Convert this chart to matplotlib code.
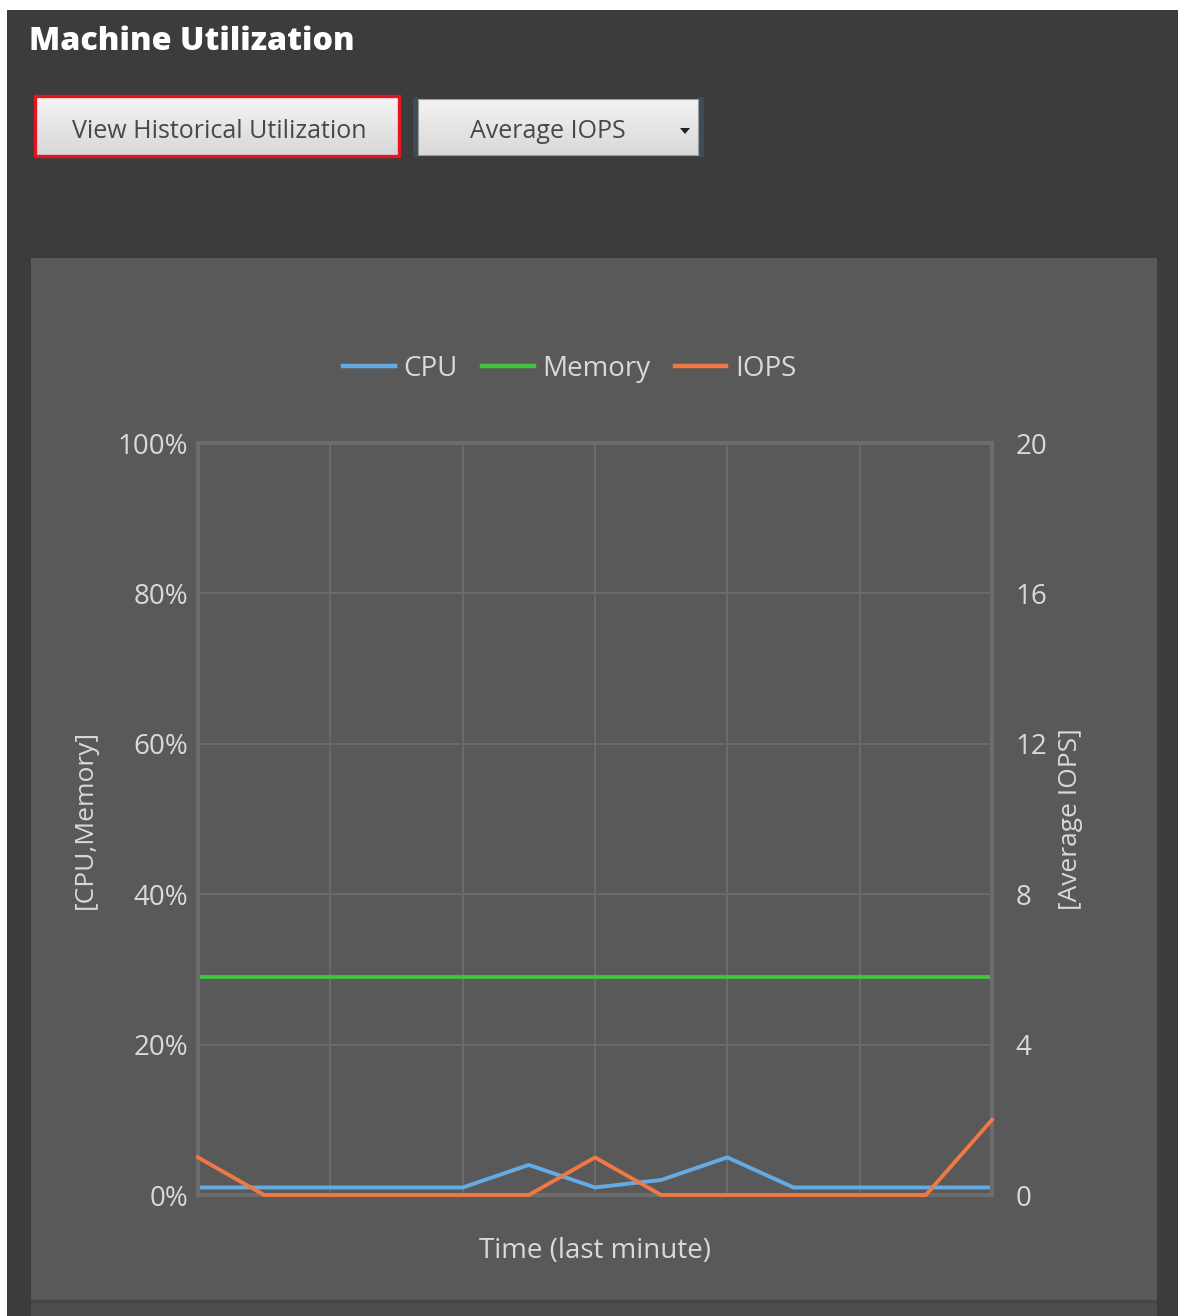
import numpy as np
import matplotlib.pyplot as plt
from matplotlib.patches import Rectangle, Polygon
from matplotlib.colors import LinearSegmentedColormap

W, H = 1178, 1316

# samples over the last minute (seconds)
seconds = [0, 5, 10, 15, 20, 25, 30, 35, 40, 45, 50, 55, 60]
cpu = [1, 1, 1, 1, 1, 4, 1, 2, 5, 1, 1, 1, 1]
memory = [29, 29, 29, 29, 29, 29, 29, 29, 29, 29, 29, 29, 29]
iops = [1, 0, 0, 0, 0, 0, 1, 0, 0, 0, 0, 0, 2]

pct_ticks = [0, 20, 40, 60, 80, 100]
pct_labels = ['0%', '20%', '40%', '60%', '80%', '100%']
iops_ticks = [0, 4, 8, 12, 16, 20]
time_grid = [0, 10, 20, 30, 40, 50, 60]

c_cpu = '#65abe3'
c_mem = '#3fc43a'
c_iops = '#f07844'
txt = '#d9d9d9'
grid_c = '#6a6a6a'

plt.rcParams['font.family'] = ['Open Sans', 'DejaVu Sans']

fig = plt.figure(figsize=(W / 100, H / 100), dpi=100, facecolor='white')

# window chrome in pixel coordinates
bg = fig.add_axes([0, 0, 1, 1], zorder=0)
bg.axis('off')
bg.add_patch(Rectangle((7, 10), W - 7, H - 10, fc='#3c3c3c', ec='none'))
bg.add_patch(Rectangle((31, 258), 1126, 1042, fc='#595959', ec='none'))
bg.add_patch(Rectangle((31, 1300), 1126, 3, fc='#454545', ec='none'))
bg.add_patch(Rectangle((31, 1303), 1126, 13, fc='#4d4d4d', ec='none'))

bg.text(29, 42, 'Machine Utilization', color='white', fontsize=23.2,
        fontweight='heavy', ha='left', va='center')

# buttons
btn_cmap = LinearSegmentedColormap.from_list('btn', ['#f4f4f4', '#d8d8d8'])
grad = np.linspace(0, 1, 64).reshape(-1, 1)
bg.imshow(grad, cmap=btn_cmap, extent=(36, 398, 155, 97), aspect='auto', zorder=2)
bg.add_patch(Rectangle((35, 96), 364, 60, fill=False, ec='#e5141e', lw=2.4, zorder=3))
bg.text(219, 131, 'View Historical Utilization', color='#484848', fontsize=18,
        ha='center', va='center', zorder=4)

bg.add_patch(Rectangle((413, 97), 5, 60, fc='#3e4c56', ec='none', zorder=1))
bg.add_patch(Rectangle((698, 97), 6, 60, fc='#3e4c56', ec='none', zorder=1))
bg.imshow(grad, cmap=btn_cmap, extent=(418, 698, 155, 99), aspect='auto', zorder=2)
bg.add_patch(Rectangle((418, 99), 280, 56, fill=False, ec='#9c9c9c', lw=0.8, zorder=3))
bg.text(548, 131, 'Average IOPS', color='#484848', fontsize=18,
        ha='center', va='center', zorder=4)
bg.add_patch(Polygon([(680, 128), (690, 128), (685, 134)], closed=True,
                     fc='#222222', ec='none', zorder=4))

bg.set_xlim(0, W)
bg.set_ylim(H, 0)

# chart
ax = fig.add_axes([198 / W, 1 - 1195 / H, 794 / W, 752 / H], zorder=2)
ax.set_facecolor('none')
ax.set_xlim(seconds[0], seconds[-1])
ax.set_ylim(0, 100)
ax.set_xticks(time_grid)
ax.set_xticklabels([])
ax.set_yticks(pct_ticks)
ax.set_yticklabels(pct_labels)
ax.grid(True, color=grid_c, lw=1.5)
ax.tick_params(length=0, labelsize=20, labelcolor=txt, pad=7)
for s in ax.spines.values():
    s.set_color('#6c6c6c')
    s.set_linewidth(3)

l_cpu, = ax.plot(seconds, cpu, color=c_cpu, lw=2.8, clip_on=False, label='CPU')
l_mem, = ax.plot(seconds, memory, color=c_mem, lw=2.8, clip_on=False, label='Memory')

ax2 = ax.twinx()
ax2.set_ylim(0, 20)
ax2.set_yticks(iops_ticks)
ax2.tick_params(length=0, labelsize=20, labelcolor=txt, pad=17)
for s in ax2.spines.values():
    s.set_visible(False)
l_iops, = ax2.plot(seconds, iops, color=c_iops, lw=2.8, clip_on=False, label='IOPS')

ax.set_ylabel('[CPU,Memory]', color=txt, fontsize=19)
ax.yaxis.set_label_coords(-0.126, 0.5)
ax2.set_ylabel('[Average IOPS]', color=txt, fontsize=19, rotation=90)
ax2.yaxis.set_label_coords(1.083, 0.5)
ax.set_xlabel('Time (last minute)', color=txt, fontsize=20)
ax.xaxis.set_label_coords(0.5, -0.056)

leg = ax.legend(handles=[l_cpu, l_mem, l_iops], loc='center',
                bbox_to_anchor=(0.468, 1.099), ncol=3, frameon=False,
                fontsize=20, handlelength=1.85, handletextpad=0.3,
                columnspacing=0.9)
for t in leg.get_texts():
    t.set_color(txt)
for h in leg.legend_handles:
    h.set_linewidth(3.2)

fig.savefig('out.png', dpi=100, facecolor=fig.get_facecolor())
